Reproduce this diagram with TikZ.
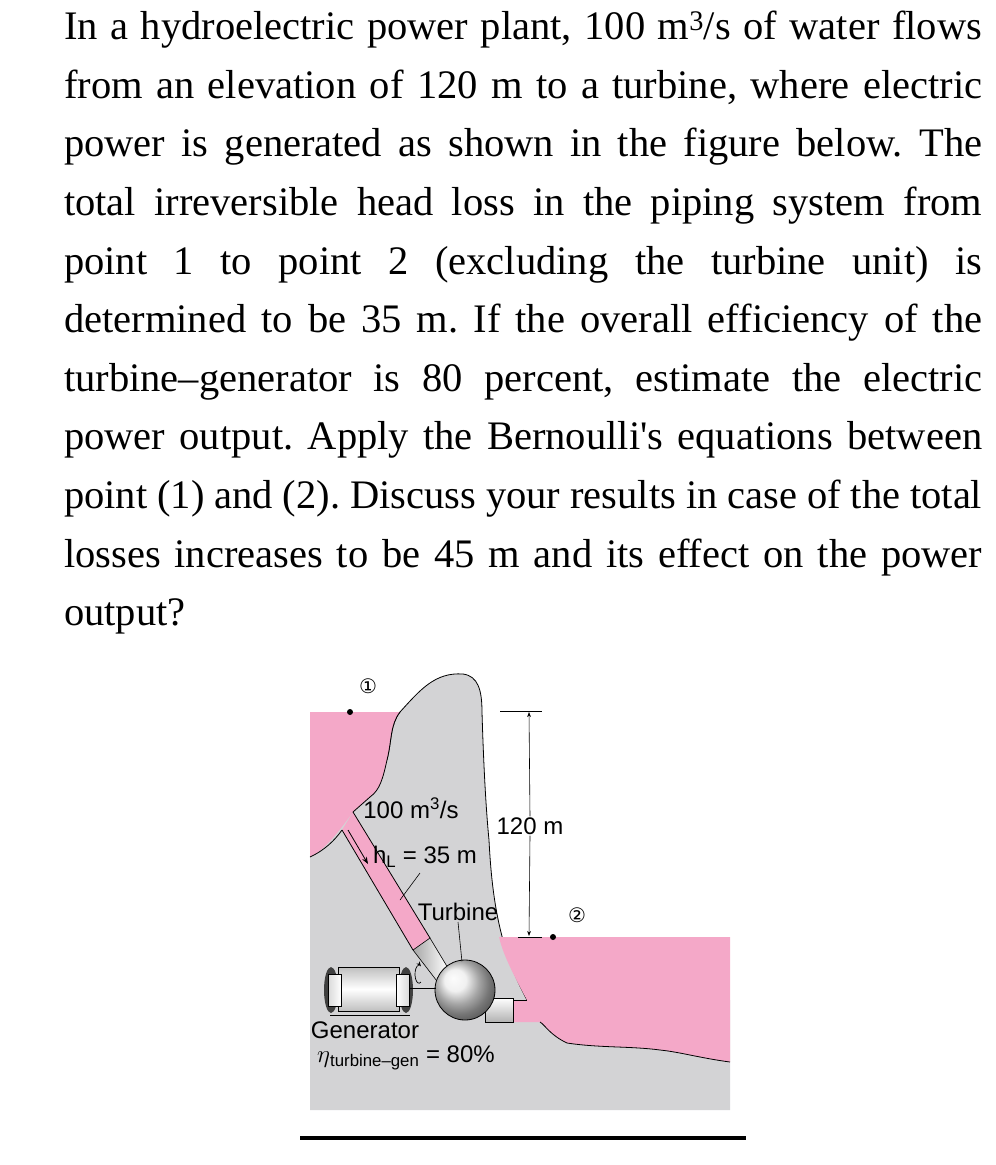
\documentclass[tikz,border=0pt]{standalone}
\usepackage{fontspec}
\setmainfont{Liberation Serif}
\setsansfont{Liberation Sans}
\newfontfamily\symfont{DejaVu Sans}
\usetikzlibrary{arrows.meta}
\definecolor{water}{HTML}{F4A8C8}
\definecolor{rock}{HTML}{D3D3D5}
\tikzset{lbl/.style={font=\sffamily\fontsize{24}{26}\selectfont, inner sep=1pt},
  outl/.style={draw=black, line width=0.8pt}}
\begin{document}
\begin{tikzpicture}[x=1pt,y=-1pt]
\useasboundingbox (0,0) rectangle (996,1165);
\node[anchor=north west, inner sep=0, text width=918pt, align=justify, font=\fontsize{40.5}{58.6}\selectfont\frenchspacing] (txt) at (64,11)
{In a hydroelectric power plant, 100 m\textsuperscript{3}/s of water flows\linebreak
from an elevation of 120 m to a turbine, where electric\linebreak
power is generated as shown in the figure below. The\linebreak
total irreversible head loss in the piping system from\linebreak
point 1 to point 2 (excluding the turbine unit) is\linebreak
determined to be 35 m. If the overall efficiency of the\linebreak
turbine--generator is 80 percent, estimate the electric\linebreak
power output. Apply the Bernoulli\textquotesingle s equations between\linebreak
point (1) and (2). Discuss your results in case of the total\linebreak
losses increases to be 45 m and its effect on the power\linebreak
output?};
% gray ground incl. mountain
\fill[rock] (310,712) -- (400,712) .. controls (420,690) and (435,672) .. (463,674) .. controls (478,676) and (482,690) .. (482,712)
  .. controls (484,780) and (487,820) .. (489,840) .. controls (492,900) and (500,950) .. (527,1000) -- (730,1000) -- (730,1110) -- (310,1110) -- cycle;
\draw[outl] (387,760) .. controls (392,740) and (390,725) .. (400,712) .. controls (420,690) and (435,672) .. (463,674) .. controls (478,676) and (482,690) .. (482,712)
  .. controls (484,780) and (487,820) .. (489,840) .. controls (492,900) and (500,950) .. (527,1000);
% upper reservoir
\fill[water] (310,712) -- (400,712) .. controls (390,725) and (392,740) .. (387,760) .. controls (383,778) and (380,790) .. (370,797) -- (353,812) .. controls (340,830) and (325,850) .. (310,857) -- cycle;
\draw[outl] (400,712) .. controls (390,725) and (392,740) .. (387,760) .. controls (383,778) and (380,790) .. (370,797) -- (353,812);
\draw[outl] (310,857) .. controls (325,850) and (335,840) .. (342,830);
% lower reservoir
\fill[water] (499,937) -- (730,937) -- (730,1062) .. controls (700,1058) and (680,1052) .. (660,1050) .. controls (630,1046) and (600,1048) .. (567,1043) .. controls (550,1035) and (545,1025) .. (540,1022) -- (513,1022) -- (513,1000) -- (527,1000) .. controls (508,965) and (502,950) .. (499,937) -- cycle;
\draw[outl] (540,1022) .. controls (545,1025) and (550,1035) .. (567,1043) .. controls (600,1048) and (630,1046) .. (660,1050) .. controls (680,1052) and (700,1058) .. (730,1062);
\draw[outl] (513,1000) -- (527,1000);
% penstock
\fill[water] (353,812) -- (430,938) -- (413,950) -- (342,830) -- cycle;
\draw[outl] (353,812) -- (430,938);
\draw[outl] (342,830) -- (413,950);
\draw[-{Stealth[length=7pt]}, line width=0.8pt] (348,830) -- (368,864);
% elbow
\shade[left color=gray!70, right color=white, draw=black, line width=0.6pt] (413,950) -- (430,938) -- (448,968) -- (440,985) -- cycle;
% outlet
\shade[top color=white, bottom color=gray!60, draw=black, line width=0.6pt] (485,998) rectangle (513,1022);
% turbine
\shade[ball color=gray!15, draw=black, line width=0.8pt] (465,990) circle (30);
\node[circle, inner sep=0, minimum size=1pt] (tc) at (462,962) {};
% generator
\draw[line width=0.8pt] (330,1015) -- (410,1015);
\shade[top color=gray!50, bottom color=gray!50, middle color=white, draw=black] (338,967) rectangle (399,1011);
\fill[black!75] (331,990) ellipse (7 and 23);
\fill[black!75] (406,990) ellipse (7 and 23);
\shade[left color=gray!30, right color=white, draw=black] (328,974) rectangle (341,1006);
\shade[left color=white, right color=gray!30, draw=black] (396,974) rectangle (409,1006);
\draw[line width=1pt] (409,988) -- (436,988);
\draw[line width=0.7pt, -{Stealth[length=5pt]}] (421,982) arc (60:300:4 and 9);
% labels
\node[font=\symfont\fontsize{20}{22}\selectfont, inner sep=0] (p1) at (368,686) {①};
\fill (350,712) circle (3);
\node[font=\symfont\fontsize{20}{22}\selectfont, inner sep=0] (p2) at (577,915) {②};
\fill (553,937) circle (3);
\node[lbl] (q) at (411,808) {100 m\textsuperscript{3}/s};
\node[lbl] (hl) at (425,857) {h\textsubscript{L} = 35 m};
\draw[line width=0.6pt] (400,900) -- (420,873);
\node[lbl] (tu) at (458,912) {Turbine};
\draw[line width=0.6pt] (tu.south) -- (tc);
\node[lbl] (dim) at (530,826) {120 m};
\draw[line width=0.6pt] (500,711) -- (542,711);
\draw[line width=0.6pt] (518,937) -- (542,937);
\draw[line width=0.6pt, -{Stealth[length=5pt]}] (dim.north) -- (529,712);
\draw[line width=0.6pt, -{Stealth[length=5pt]}] (dim.south) -- (529,936);
\node[lbl] (gen) at (365,1030) {Generator};
\node[lbl] (eta) at (406,1058) {$\eta$\textsubscript{turbine--gen} = 80\%};
\draw[line width=4pt] (300,1138) -- (746,1138);
\end{tikzpicture}
\end{document}
